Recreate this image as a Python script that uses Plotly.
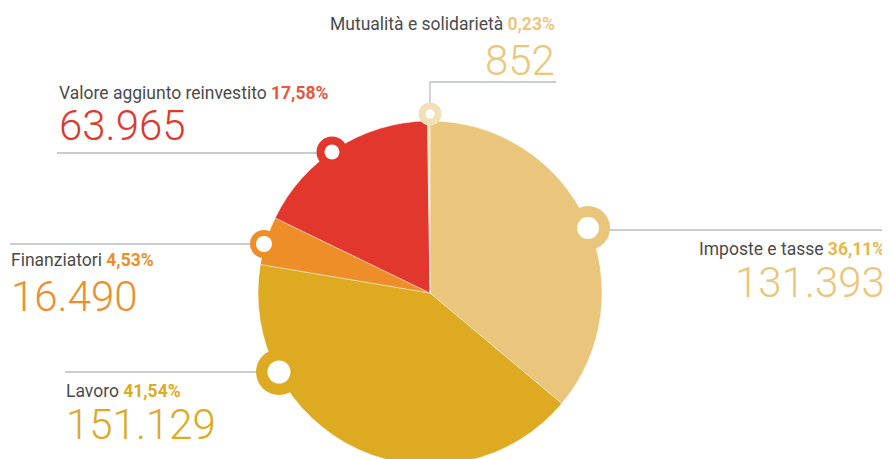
import plotly.graph_objects as go

W, H = 890, 459
OFF = 8  # page body margin: screen = figure + OFF

# ---- data ----
names = ["Imposte e tasse", "Lavoro", "Finanziatori",
         "Valore aggiunto reinvestito", "Mutualità e solidarietà"]
values = [131393, 151129, 16490, 63965, 852]

total = sum(values)
pct_labels = [f"{v / total * 100:.2f}".replace(".", ",") + "%" for v in values]
value_labels = [f"{v:,}".replace(",", ".") for v in values]

# ---- style ----
slice_colors = ["#E9C67C", "#DDAA22", "#EE8E29", "#E1372D", "#F3E0B8"]
pct_colors = ["#E6B84E", "#DDAA22", "#EE8E29", "#E8553E", "#EAC77C"]
num_colors = ["#E9C67C", "#DDAA22", "#EE8E29", "#E1372D", "#EAC77C"]
ring_colors = ["#E9C67C", "#DDAA22", "#EE8E29", "#E1372D", "#F3E0B8"]
LINE = "#B7BDC2"
LABEL = "#4B4B4B"
FONT = "Roboto"

# pie geometry in screen pixels
CX, CY, R = 430, 293, 172


def px(x):
    return (x - OFF) / W


def py(y):
    return 1 - (y - OFF) / H


fig = go.Figure()
fig.add_trace(go.Pie(
    values=values, labels=names, sort=False, direction="clockwise", rotation=0,
    marker=dict(colors=slice_colors, line=dict(color="rgba(255,255,255,0.7)", width=0.6)),
    textinfo="none", showlegend=False,
    domain=dict(x=[px(CX - R), px(CX + R)], y=[max(0, py(CY + R)), py(CY - R)]),
))

# callout geometry (screen pixels): marker center, outer r, inner r, leader path
callouts = [
    dict(c=(588, 228), ro=22, ri=11, path=[(588, 230), (885, 230)]),
    dict(c=(279, 372), ro=23, ri=11.5, path=[(65, 372), (279, 372)]),
    dict(c=(264, 244), ro=14, ri=8, path=[(10, 244), (264, 244)]),
    dict(c=(332, 152), ro=15.5, ri=7.5, path=[(57, 153), (332, 153)]),
    dict(c=(430, 114), ro=11.5, ri=4.5, path=[(430, 114), (430, 82), (556, 82)]),
]

shapes = []
for i, c in enumerate(callouts):
    d = "M " + " L ".join(f"{px(x)},{py(y)}" for x, y in c["path"])
    shapes.append(dict(type="path", xref="paper", yref="paper", path=d,
                       line=dict(color=LINE, width=1.3), layer="above"))
for i, c in enumerate(callouts):
    x, y = c["c"]
    for rr, col in ((c["ro"], ring_colors[i]), (c["ri"], "white")):
        shapes.append(dict(type="circle", xref="paper", yref="paper",
                           x0=px(x - rr), x1=px(x + rr), y0=py(y + rr), y1=py(y - rr),
                           fillcolor=col, line=dict(width=0), layer="above"))

# text placement (screen pixels): anchor x, label baseline, number baseline, align
text_pos = [
    (886, 254, 295, "right"),
    (65, 396, 437, "left"),
    (10, 265, 309, "left"),
    (58, 98, 138, "left"),
    (556, 29, 73, "right"),
]
LS, NS = 17.5, 42
annotations = []
for i, (x, yl, yn, al) in enumerate(text_pos):
    annotations.append(dict(
        xref="paper", yref="paper", x=px(x), y=py(yl - 0.3 * LS), xanchor=al, yanchor="middle",
        text=f"{names[i]} <b><span style='color:{pct_colors[i]}'>{pct_labels[i]}</span></b>",
        showarrow=False, font=dict(family=FONT, size=LS, color=LABEL), borderpad=0))
    annotations.append(dict(
        xref="paper", yref="paper", x=px(x), y=py(yn - 0.3 * NS), xanchor=al, yanchor="middle",
        text=value_labels[i], showarrow=False,
        font=dict(family=FONT, size=NS, color=num_colors[i], weight=300), borderpad=0))

fig.update_layout(
    width=W, height=H, margin=dict(l=0, r=0, t=0, b=0),
    paper_bgcolor="white", plot_bgcolor="white",
    shapes=shapes, annotations=annotations,
)
fig.write_html("out.html")
